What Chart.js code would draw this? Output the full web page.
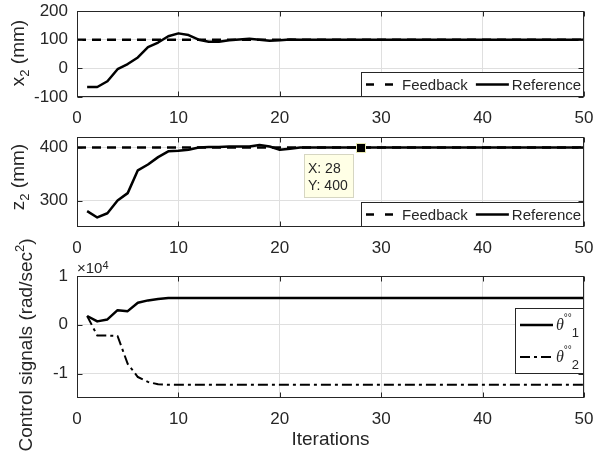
<!DOCTYPE html>
<html>
<head>
<meta charset="utf-8">
<script src="https://cdn.jsdelivr.net/npm/chart.js@4"></script>
<style>
  html, body { margin: 0; padding: 0; background: #fff; }
  #wrap { position: relative; width: 597px; height: 456px; }
  #wrap canvas { position: absolute; left: 0; top: 0; }
</style>
</head>
<body>
<div id="wrap">
  <canvas id="chartX2" width="597" height="456"></canvas>
  <canvas id="chartZ2" width="597" height="456"></canvas>
  <canvas id="chartCtrl" width="597" height="456"></canvas>
</div>
<script>
(function () {
  "use strict";

  /* ---------- Data ---------- */
  const iterations = [
    1, 2, 3, 4, 5, 6, 7, 8, 9, 10,
    11, 12, 13, 14, 15, 16, 17, 18, 19, 20,
    21, 22, 23, 24, 25, 26, 27, 28, 29, 30,
    31, 32, 33, 34, 35, 36, 37, 38, 39, 40,
    41, 42, 43, 44, 45, 46, 47, 48, 49, 50
  ];
  const feedbackIter = [0, 50];
  const x2Feedback = [100, 100];
  const x2Reference = [
    -65, -65, -45, -3, 15, 38, 74, 90, 112, 122,
    116, 100, 93, 93, 98, 101, 103, 100, 96, 98,
    101, 100, 100, 100, 100, 100, 100, 100, 100, 100,
    100, 100, 100, 100, 100, 100, 100, 100, 100, 100,
    100, 100, 100, 100, 100, 100, 100, 100, 100, 100
  ];
  const z2Feedback = [400, 400];
  const z2Reference = [
    280, 268, 276, 300, 314, 357, 368, 382, 393, 394,
    396, 400, 401, 401, 402, 402, 402, 405, 402, 396,
    398, 400, 400, 400, 400, 400, 400, 400, 400, 400,
    400, 400, 400, 400, 400, 400, 400, 400, 400, 400,
    400, 400, 400, 400, 400, 400, 400, 400, 400, 400
  ];
  const theta1 = [
    1800, 700, 1100, 3000, 2800, 4500, 5000, 5300, 5500, 5500,
    5500, 5500, 5500, 5500, 5500, 5500, 5500, 5500, 5500, 5500,
    5500, 5500, 5500, 5500, 5500, 5500, 5500, 5500, 5500, 5500,
    5500, 5500, 5500, 5500, 5500, 5500, 5500, 5500, 5500, 5500,
    5500, 5500, 5500, 5500, 5500, 5500, 5500, 5500, 5500, 5500
  ];
  const theta2 = [
    1800, -2200, -2200, -2300, -8000, -10700, -11700, -12200, -12300, -12300,
    -12300, -12300, -12300, -12300, -12300, -12300, -12300, -12300, -12300, -12300,
    -12300, -12300, -12300, -12300, -12300, -12300, -12300, -12300, -12300, -12300,
    -12300, -12300, -12300, -12300, -12300, -12300, -12300, -12300, -12300, -12300,
    -12300, -12300, -12300, -12300, -12300, -12300, -12300, -12300, -12300, -12300
  ];
  const xTicks = [0, 10, 20, 30, 40, 50];
  const x2Ticks = [-100, 0, 100, 200];
  const z2Ticks = [300, 400];
  const ctrlTicks = [-10000, 0, 10000];
  const ctrlExponent = 4;
  const tipIteration = 28;

  /* ---------- Look ---------- */
  const FONT = "'Liberation Sans', Arial, sans-serif";
  const INK = "#262626";
  const GRID = "#dfdfdf";
  const PAGE_W = 597, PAGE_H = 456;
  const AREA_LEFT = 77, AREA_RIGHT = 584;

  Chart.defaults.font.family = FONT;
  Chart.defaults.color = INK;

  const pts = (xs, ys) => xs.map((x, i) => ({ x: x, y: ys[i] }));

  function drawParts(ctx, parts, x, y, rotate, center) {
    ctx.save();
    ctx.translate(x, y);
    if (rotate) ctx.rotate(-Math.PI / 2);
    const widths = parts.map(p => { ctx.font = p.font; return ctx.measureText(p.text).width; });
    const total = widths.reduce((s, w) => s + w, 0);
    let cx = center ? -total / 2 : 0;
    ctx.textAlign = "left";
    ctx.textBaseline = "alphabetic";
    ctx.fillStyle = INK;
    parts.forEach((p, i) => { ctx.font = p.font; ctx.fillText(p.text, cx, p.dy || 0); cx += widths[i]; });
    ctx.restore();
    return total;
  }
  function partsWidth(ctx, parts) {
    return parts.reduce((s, p) => { ctx.font = p.font; return s + ctx.measureText(p.text).width; }, 0);
  }

  const T = "19px " + FONT, TS = "13px " + FONT;
  const LEG = "15px " + FONT;

  /* ---------- Plugins ---------- */
  const framePlugin = {
    id: "frame",
    afterDatasetsDraw(chart) {
      const { ctx, chartArea: a, scales } = chart;
      const L = Math.round(a.left) + 0.5, R = Math.round(a.right) - 0.5;
      const Tp = Math.round(a.top) + 0.5, B = Math.round(a.bottom) - 0.5;
      ctx.save();
      ctx.strokeStyle = INK;
      ctx.lineWidth = 1;
      ctx.setLineDash([]);
      ctx.beginPath();
      scales.x.ticks.forEach(t => {
        const px = Math.round(scales.x.getPixelForValue(t.value)) + 0.5;
        ctx.moveTo(px, B); ctx.lineTo(px, B - 5);
        ctx.moveTo(px, Tp); ctx.lineTo(px, Tp + 5);
      });
      scales.y.ticks.forEach(t => {
        const py = Math.round(scales.y.getPixelForValue(t.value)) + 0.5;
        ctx.moveTo(L, py); ctx.lineTo(L + 5, py);
        ctx.moveTo(R, py); ctx.lineTo(R - 5, py);
      });
      ctx.stroke();
      ctx.strokeRect(L, Tp, R - L, B - Tp);
      ctx.restore();
    }
  };

  const yTitlePlugin = {
    id: "yTitle",
    afterDraw(chart, args, opts) {
      drawParts(chart.ctx, opts.parts, opts.x, opts.y, true, true);
    }
  };

  const legendPlugin = {
    id: "boxLegend",
    afterDraw(chart, args, opts) {
      const { ctx, chartArea: a } = chart;
      const ds = chart.data.datasets;
      const labels = opts.labels || ds.map(d => [{ text: d.label, font: LEG }]);
      const sampleDash = opts.sampleDash || [];
      const sample = 33;
      let w, h;
      if (opts.vertical) {
        w = 5 + sample + 3 + Math.max(...labels.map(l => partsWidth(ctx, l))) + 5;
        h = 66;
      } else {
        w = 5;
        labels.forEach((l, i) => { w += sample + 3 + partsWidth(ctx, l) + (i < labels.length - 1 ? 8 : 3); });
        h = 25;
      }
      const left = Math.round(a.right - w);
      const top = opts.vertical ? Math.round(opts.top) : Math.round(a.bottom - h);
      ctx.save();
      ctx.fillStyle = "#fff";
      ctx.fillRect(left, top, w, h);
      ctx.strokeStyle = INK;
      ctx.lineWidth = 1;
      ctx.strokeRect(left + 0.5, top + 0.5, Math.round(w) - 1, h - 1);
      let x = left + 5;
      labels.forEach((l, i) => {
        const cy = opts.vertical ? top + 17 + i * 32 : top + h / 2;
        const sx = opts.vertical ? left + 5 : x;
        ctx.strokeStyle = ds[i].borderColor;
        ctx.lineWidth = ds[i].borderWidth;
        ctx.setLineDash(sampleDash[i] || ds[i].borderDash || []);
        ctx.beginPath();
        ctx.moveTo(sx, cy); ctx.lineTo(sx + sample, cy);
        ctx.stroke();
        ctx.setLineDash([]);
        const tw = drawParts(ctx, l, sx + sample + 3, cy + 5, false, false);
        x = sx + sample + 3 + tw + 8;
      });
      ctx.restore();
    }
  };

  const dataTipPlugin = {
    id: "dataTip",
    afterDraw(chart) {
      const { ctx, scales } = chart;
      const i = iterations.indexOf(tipIteration);
      const xv = iterations[i], yv = z2Reference[i];
      const mx = scales.x.getPixelForValue(xv), my = scales.y.getPixelForValue(yv);
      ctx.save();
      ctx.fillStyle = "#000";
      ctx.fillRect(Math.round(mx - 5), Math.round(my - 5), 10, 10);
      ctx.strokeStyle = "#e8e8b0";
      ctx.lineWidth = 1;
      ctx.strokeRect(Math.round(mx - 5) + 0.5, Math.round(my - 5) + 0.5, 9, 9);
      const lines = ["X: " + xv, "Y: " + yv];
      ctx.font = "14px " + FONT;
      const w = Math.round(Math.max(...lines.map(l => ctx.measureText(l).width)) + 10);
      const left = Math.round(mx - 57), top = Math.round(my + 6);
      ctx.fillStyle = "#ffffe6";
      ctx.fillRect(left, top, w, 44);
      ctx.strokeStyle = "#d6d6c2";
      ctx.strokeRect(left + 0.5, top + 0.5, w - 1, 43);
      ctx.fillStyle = INK;
      ctx.textBaseline = "middle";
      lines.forEach((l, k) => ctx.fillText(l, left + 4, top + 15 + k * 17.5));
      ctx.restore();
    }
  };

  const exponentPlugin = {
    id: "exponent",
    afterDraw(chart) {
      const a = chart.chartArea;
      drawParts(chart.ctx, [
        { text: "\u00d710", font: "15px " + FONT },
        { text: String(ctrlExponent), font: "11px " + FONT, dy: -4 }
      ], a.left, a.top - 3, false, false);
    }
  };

  /* ---------- Shared panel options ---------- */
  function panel(cfg) {
    return {
      responsive: false,
      animation: false,
      devicePixelRatio: 1,
      events: [],
      layout: { padding: { left: 0, right: PAGE_W - AREA_RIGHT, top: cfg.top, bottom: PAGE_H - cfg.bottom - cfg.axisH } },
      elements: { point: { radius: 0 }, line: { tension: 0, borderCapStyle: "butt", borderJoinStyle: "round" } },
      plugins: Object.assign({ legend: { display: false }, tooltip: { enabled: false } }, cfg.plugins),
      scales: {
        x: {
          type: "linear", min: 0, max: 50,
          afterBuildTicks: s => { s.ticks = xTicks.map(v => ({ value: v })); },
          afterFit: s => { s.height = cfg.axisH; s.paddingLeft = 0; s.paddingRight = 0; },
          grid: { color: GRID, drawTicks: false },
          border: { display: false },
          ticks: { padding: 11, maxRotation: 0, autoSkip: false, font: { size: 17 }, color: INK },
          title: cfg.xTitle
            ? { display: true, text: cfg.xTitle, font: { size: 19 }, color: INK, padding: { top: 0, bottom: 5 } }
            : { display: false }
        },
        y: {
          type: "linear", min: cfg.yMin, max: cfg.yMax,
          afterBuildTicks: s => { s.ticks = cfg.yTicks.map(v => ({ value: v })); },
          afterFit: s => { s.width = AREA_LEFT; s.paddingTop = 0; s.paddingBottom = 0; },
          grid: { color: GRID, drawTicks: false },
          border: { display: false },
          ticks: { padding: 9, autoSkip: false, font: { size: 17 }, color: INK, callback: cfg.yFormat || (v => String(v)) }
        }
      }
    };
  }

  /* ---------- Panel 1: x2 ---------- */
  new Chart(document.getElementById("chartX2"), {
    type: "line",
    data: {
      datasets: [
        { label: "Feedback", data: pts(feedbackIter, x2Feedback), borderColor: "#000", borderWidth: 2.5, borderDash: [9, 6], order: 1 },
        { label: "Reference", data: pts(iterations, x2Reference), borderColor: "#000", borderWidth: 2.5, order: 0 }
      ]
    },
    options: panel({
      top: 11, bottom: 97, axisH: 30, yMin: -100, yMax: 200, yTicks: x2Ticks,
      plugins: {
        boxLegend: { sampleDash: [[8, 11]] },
        yTitle: { x: 23.5, y: 53, parts: [{ text: "x", font: T }, { text: "2", font: TS, dy: 5 }, { text: " (mm)", font: T }] }
      }
    }),
    plugins: [framePlugin, legendPlugin, yTitlePlugin]
  });

  /* ---------- Panel 2: z2 ---------- */
  new Chart(document.getElementById("chartZ2"), {
    type: "line",
    data: {
      datasets: [
        { label: "Feedback", data: pts(feedbackIter, z2Feedback), borderColor: "#000", borderWidth: 2.5, borderDash: [9, 6], order: 1 },
        { label: "Reference", data: pts(iterations, z2Reference), borderColor: "#000", borderWidth: 2.5, order: 0 }
      ]
    },
    options: panel({
      top: 137, bottom: 227, axisH: 30, yMin: 250, yMax: 420, yTicks: z2Ticks,
      plugins: {
        boxLegend: { sampleDash: [[8, 11]] },
        yTitle: { x: 23.5, y: 177, parts: [{ text: "z", font: T }, { text: "2", font: TS, dy: 5 }, { text: " (mm)", font: T }] }
      }
    }),
    plugins: [framePlugin, legendPlugin, dataTipPlugin, yTitlePlugin]
  });

  /* ---------- Panel 3: control signals ---------- */
  const thetaLabel = n => [
    { text: "\u03b8", font: "italic 16px 'Liberation Serif', 'DejaVu Serif', serif" },
    { text: "\u00b0\u00b0", font: "10px " + FONT, dy: -9 },
    { text: String(n), font: "13px " + FONT, dy: 7 }
  ];
  new Chart(document.getElementById("chartCtrl"), {
    type: "line",
    data: {
      datasets: [
        { label: "theta1", data: pts(iterations, theta1), borderColor: "#000", borderWidth: 2.5, order: 0 },
        { label: "theta2", data: pts(iterations, theta2), borderColor: "#000", borderWidth: 2, borderDash: [10, 4, 3, 4], order: 1 }
      ]
    },
    options: panel({
      top: 276, bottom: 398, axisH: 58, yMin: -15000, yMax: 10000, yTicks: ctrlTicks,
      yFormat: v => String(v / Math.pow(10, ctrlExponent)),
      xTitle: "Iterations",
      plugins: {
        boxLegend: { vertical: true, top: 308, labels: [thetaLabel(1), thetaLabel(2)] },
        yTitle: {
          x: 31.5, y: 345,
          parts: [{ text: "Control signals (rad/sec", font: T }, { text: "2", font: TS, dy: -8 }, { text: ")", font: T }]
        }
      }
    }),
    plugins: [framePlugin, legendPlugin, exponentPlugin, yTitlePlugin]
  });
})();
</script>
</body>
</html>
